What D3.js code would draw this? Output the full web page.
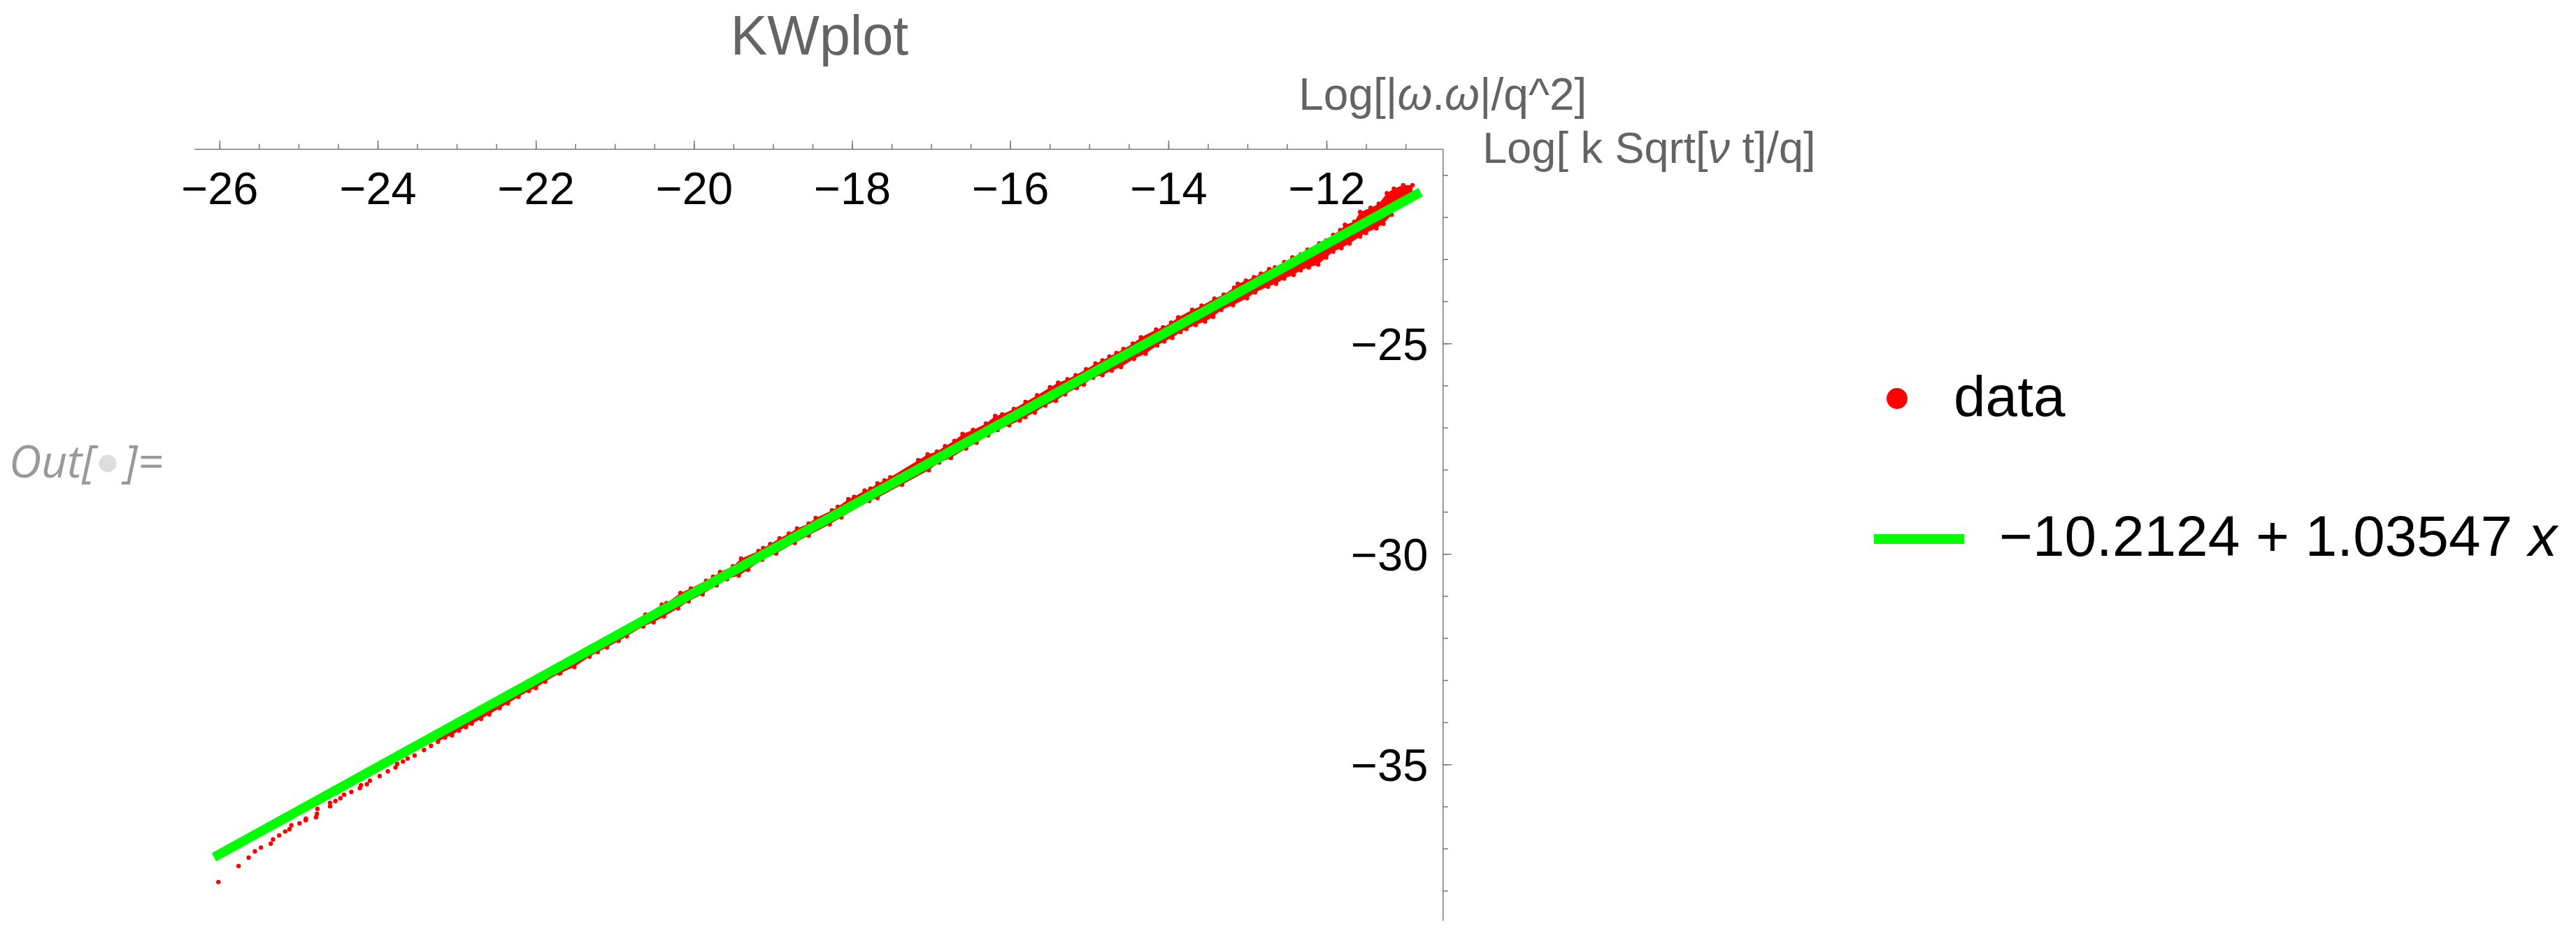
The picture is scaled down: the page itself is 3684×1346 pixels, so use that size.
<!DOCTYPE html>
<html>
<head>
<meta charset="utf-8">
<script src="https://cdn.jsdelivr.net/npm/d3@7"></script>
<style>
  html, body { margin: 0; padding: 0; background: #ffffff; }
  svg { display: block; }
</style>
</head>
<body>
<svg id="chart" width="3684" height="1346"></svg>
<script>
// ---------------- data ----------------
const chartTitle = "KWplot";
const fitIntercept = -10.2124;
const fitSlope = 1.03547;
const fitRange = [-26.07, -10.81];

const xMajorTicks = [-26, -24, -22, -20, -18, -16, -14, -12];
const xMinorTicks = [-26, -25.5, -25, -24.5, -24, -23.5, -23, -22.5, -22, -21.5, -21, -20.5, -20, -19.5, -19, -18.5, -18, -17.5, -17, -16.5, -16, -15.5, -15, -14.5, -14, -13.5, -13, -12.5, -12, -11.5, -11];
const yMajorTicks = [-25, -30, -35];
const yMinorTicks = [-38, -37, -36, -35, -34, -33, -32, -31, -30, -29, -28, -27, -26, -25, -24, -23, -22, -21];

const legendLabels = ["data", "fit"];

// data points lying below the fit (lower side of the scatter)
const lowerX = [-26.014, -25.758, -25.631, -25.552, -25.475, -25.351, -25.322, -25.245, -25.169, -25.115,
  -25.091, -24.988, -24.908, -24.908, -24.779, -24.767, -24.762, -24.602, -24.602, -24.534,
  -24.470, -24.425, -24.333, -24.225, -24.210, -24.136, -24.098, -23.974, -23.871, -23.774,
  -23.753, -23.679, -23.620, -23.532, -23.413, -23.325, -23.237, -23.148, -23.060, -22.971,
  -22.883, -22.809, -22.692, -22.588, -22.456, -22.352, -22.219, -22.087, -21.998, -21.881,
  -21.704, -21.689, -21.512, -21.320, -21.217, -21.099, -20.952, -20.849, -20.642, -20.510,
  -20.377, -20.200, -20.067, -19.890, -19.713, -19.581, -19.433, -19.315, -19.138, -18.961,
  -18.726, -18.549, -18.283, -18.136, -17.782, -17.679, -17.369, -17.030, -16.898, -16.750,
  -16.558, -16.426, -16.278, -16.160, -16.013, -15.880, -15.807, -15.689, -15.556, -15.423,
  -15.305, -15.158, -15.070, -14.951, -14.833, -14.716, -14.598, -14.435, -14.288, -14.141,
  -14.052, -13.949, -13.846, -13.772, -13.654, -13.536, -13.433, -13.330, -13.182, -13.005,
  -12.902, -12.740, -12.637, -12.534, -12.416, -12.327, -12.224, -12.106, -12.003, -11.915,
  -11.811, -11.708, -11.575, -11.502, -11.369, -11.280, -11.177];
const lowerY = [-37.795, -37.415, -37.216, -37.066, -36.977, -36.884, -36.784, -36.690, -36.595, -36.540,
  -36.446, -36.402, -36.329, -36.291, -36.257, -36.174, -36.058, -35.997, -35.914, -35.870,
  -35.803, -35.720, -35.654, -35.565, -35.498, -35.472, -35.389, -35.278, -35.166, -35.073,
  -34.990, -34.934, -34.862, -34.791, -34.658, -34.558, -34.464, -34.364, -34.309, -34.198,
  -34.115, -34.032, -33.921, -33.811, -33.661, -33.550, -33.395, -33.256, -33.185, -33.035,
  -32.841, -32.830, -32.686, -32.443, -32.332, -32.221, -32.066, -31.955, -31.723, -31.623,
  -31.485, -31.291, -31.125, -30.958, -30.748, -30.599, -30.516, -30.377, -30.139, -29.990,
  -29.740, -29.563, -29.297, -29.131, -28.744, -28.672, -28.356, -28.013, -27.830, -27.719,
  -27.498, -27.359, -27.182, -27.055, -26.944, -26.833, -26.750, -26.640, -26.473, -26.363,
  -26.208, -26.058, -25.975, -25.809, -25.754, -25.643, -25.560, -25.366, -25.244, -25.045,
  -24.951, -24.868, -24.729, -24.657, -24.563, -24.480, -24.369, -24.203, -24.093, -23.926,
  -23.788, -23.650, -23.583, -23.456, -23.373, -23.262, -23.195, -23.124, -22.957, -22.819,
  -22.736, -22.625, -22.459, -22.376, -22.265, -22.155, -21.944];

// data points lying above the fit (upper side of the scatter)
const upperX = [-20.613, -20.406, -20.347, -20.170, -20.038, -19.846, -19.758, -19.669, -19.507, -19.404,
  -19.183, -19.124, -19.035, -18.917, -18.799, -18.696, -18.549, -18.460, -18.254, -18.180,
  -18.047, -17.974, -17.841, -17.767, -17.679, -17.590, -17.517, -17.163, -17.045, -16.927,
  -16.824, -16.706, -16.603, -16.470, -16.308, -16.190, -16.101, -15.954, -15.807, -15.659,
  -15.497, -15.394, -15.276, -15.173, -15.040, -14.922, -14.833, -14.745, -14.657, -14.568,
  -14.450, -14.347, -14.155, -14.067, -13.964, -13.875, -13.698, -13.580, -13.418, -13.300,
  -13.168, -13.123, -13.020, -12.917, -12.829, -12.725, -12.652, -12.534, -12.431, -12.327,
  -12.239, -12.091, -12.003, -11.915, -11.826, -11.767, -11.649, -11.575, -11.443, -11.339,
  -11.236, -11.148, -11.030, -10.912];
const upperY = [-31.446, -31.208, -31.169, -30.931, -30.820, -30.637, -30.543, -30.433, -30.294, -30.111,
  -29.934, -29.862, -29.768, -29.630, -29.519, -29.397, -29.281, -29.148, -28.965, -28.882,
  -28.699, -28.644, -28.495, -28.450, -28.328, -28.256, -28.179, -27.775, -27.636, -27.570,
  -27.442, -27.315, -27.149, -27.055, -26.905, -26.723, -26.684, -26.557, -26.390, -26.235,
  -26.042, -25.936, -25.853, -25.754, -25.615, -25.477, -25.405, -25.311, -25.228, -25.134,
  -25.006, -24.857, -24.674, -24.619, -24.508, -24.380, -24.203, -24.104, -23.937, -23.843,
  -23.677, -23.583, -23.511, -23.428, -23.345, -23.234, -23.195, -23.068, -22.957, -22.885,
  -22.775, -22.625, -22.553, -22.420, -22.310, -22.182, -22.110, -21.878, -21.778, -21.684,
  -21.435, -21.324, -21.241, -21.241];

// the scatter becomes a continuous band from here on (lower side)
const denseFromX = -23.3;

// ---------------- layout ----------------
const W = 3684, H = 1346;
const svg = d3.select("#chart");
svg.append("rect").attr("width", W).attr("height", H).attr("fill", "#ffffff");

const xScale = d3.scaleLinear().domain([-26.32, -10.53]).range([277.7, 2063.3]);
const yScale = d3.scaleLinear().domain([-38.71, -20.38]).range([1316.7, 213]);
const fit = x => fitIntercept + fitSlope * x;

const axisColor = "#777777";
const labelGray = "#646464";
const red = "#ff0000";
const green = "#00ff00";
const sans = "'Liberation Sans', Arial, Helvetica, sans-serif";
const fmt = d3.format("d");

// ---------------- data marks ----------------
const lowerPts = lowerX.map((x, i) => [x, lowerY[i]]);
const upperPts = upperX.map((x, i) => [x, upperY[i]]);

const bandArea = d3.area()
  .x(d => xScale(d[0]))
  .y0(d => yScale(fit(d[0])))
  .y1(d => yScale(d[1]));

const plot = svg.append("g").attr("class", "plot");
plot.append("path")
  .datum(lowerPts.filter(d => d[0] >= denseFromX))
  .attr("d", bandArea).attr("fill", red);
plot.append("path")
  .datum(upperPts)
  .attr("d", bandArea).attr("fill", red);

plot.selectAll("circle.pt")
  .data(lowerPts.concat(upperPts))
  .join("circle")
  .attr("class", "pt")
  .attr("cx", d => xScale(d[0]))
  .attr("cy", d => yScale(d[1]))
  .attr("r", 3.2)
  .attr("fill", red);

const fitLine = d3.line().x(d => xScale(d)).y(d => yScale(fit(d)));
plot.append("path")
  .datum(fitRange)
  .attr("d", fitLine)
  .attr("fill", "none")
  .attr("stroke", green)
  .attr("stroke-width", 13.5)
  .attr("stroke-linecap", "butt");

// ---------------- axes ----------------
const xAxisY = yScale.range()[1];
const yAxisX = xScale.range()[1];

const gxMinor = svg.append("g").attr("transform", `translate(0,${xAxisY})`)
  .call(d3.axisTop(xScale).tickValues(xMinorTicks).tickSize(7).tickSizeOuter(0).tickFormat(""));
gxMinor.select(".domain").remove();

const gx = svg.append("g").attr("transform", `translate(0,${xAxisY})`)
  .call(d3.axisTop(xScale).tickValues(xMajorTicks).tickSize(12).tickSizeOuter(0).tickFormat(fmt));
gx.selectAll("text")
  .attr("y", 79).attr("dy", null)
  .attr("text-anchor", "middle")
  .attr("fill", "#000").style("font-family", sans).style("font-size", "65px");

const gyMinor = svg.append("g").attr("transform", `translate(${yAxisX},0)`)
  .call(d3.axisRight(yScale).tickValues(yMinorTicks).tickSize(7.7).tickSizeOuter(0).tickFormat(""));
gyMinor.select(".domain").remove();

const gy = svg.append("g").attr("transform", `translate(${yAxisX},0)`)
  .call(d3.axisRight(yScale).tickValues(yMajorTicks).tickSize(12.7).tickSizeOuter(0).tickFormat(fmt));
gy.selectAll("text")
  .attr("x", -21).attr("dy", "0.36em")
  .attr("text-anchor", "end")
  .attr("fill", "#000").style("font-family", sans).style("font-size", "65px");

svg.selectAll(".domain, .tick line")
  .attr("stroke", axisColor).attr("stroke-width", 1.5);

// ---------------- titles / labels ----------------
svg.append("text")
  .attr("x", 1172).attr("y", 78)
  .attr("text-anchor", "middle")
  .attr("fill", labelGray)
  .style("font-family", sans).style("font-size", "79px")
  .text(chartTitle);

const yLab = svg.append("text")
  .attr("x", yAxisX).attr("y", 157)
  .attr("text-anchor", "middle")
  .attr("fill", labelGray)
  .style("font-family", sans).style("font-size", "64px");
yLab.append("tspan").text("Log[|");
yLab.append("tspan").style("font-style", "italic").text("ω");
yLab.append("tspan").text(".");
yLab.append("tspan").style("font-style", "italic").text("ω");
yLab.append("tspan").text("|/q^2]");

const xLab = svg.append("text")
  .attr("x", yAxisX + 57).attr("y", 233)
  .attr("text-anchor", "start")
  .attr("fill", labelGray)
  .style("font-family", sans).style("font-size", "63px");
xLab.append("tspan").text("Log[ k Sqrt[");
xLab.append("tspan").style("font-style", "italic").text("ν");
xLab.append("tspan").text(" t]/q]");

// ---------------- legend ----------------
const legend = svg.append("g").attr("class", "legend");
legend.append("circle").attr("cx", 2713).attr("cy", 570).attr("r", 15).attr("fill", red);
legend.append("text")
  .attr("x", 2794).attr("y", 595)
  .attr("fill", "#000").style("font-family", sans).style("font-size", "82px")
  .text(legendLabels[0]);

legend.append("line")
  .attr("x1", 2680).attr("x2", 2809).attr("y1", 771).attr("y2", 771)
  .attr("stroke", green).attr("stroke-width", 14);
const fitText = legend.append("text")
  .attr("x", 2859).attr("y", 795)
  .attr("fill", "#000").style("font-family", sans).style("font-size", "82px");
fitText.append("tspan").text(`${fmt(Math.trunc(fitIntercept))}${(Math.abs(fitIntercept) % 1).toFixed(4).slice(1)} + ${fitSlope} `.replace("-", "\u2212"));
fitText.append("tspan").style("font-style", "italic").text("x");

// ---------------- notebook "Out[•]=" label ----------------
const outFont = "'Open Sans', 'Noto Sans', sans-serif";
svg.append("text")
  .attr("x", 13).attr("y", 683)
  .attr("fill", "#999999")
  .style("font-family", outFont).style("font-style", "italic").style("font-size", "64px")
  .text("Out[");
svg.append("circle").attr("cx", 154).attr("cy", 663).attr("r", 12.5).attr("fill", "#dddddd");
svg.append("text")
  .attr("x", 178).attr("y", 683)
  .attr("fill", "#999999")
  .style("font-family", outFont).style("font-style", "italic").style("font-size", "64px")
  .text("]=");
</script>
</body>
</html>
